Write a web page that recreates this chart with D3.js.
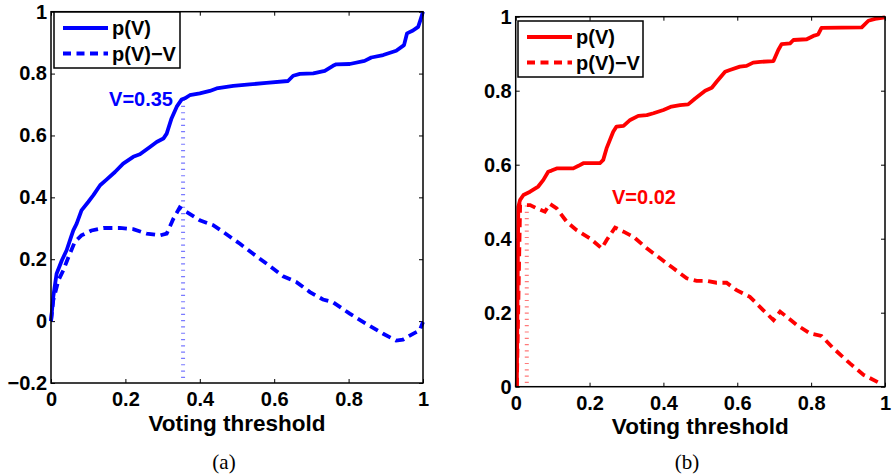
<!DOCTYPE html>
<html><head><meta charset="utf-8">
<script src="https://cdn.jsdelivr.net/npm/d3@7"></script>
<style>
html,body{margin:0;padding:0;background:#fff;}
svg{display:block;}
.tick text{font-family:"Liberation Sans",Arial,sans-serif;font-weight:bold;font-size:20px;fill:#000;}
</style></head>
<body>
<svg id="chart" width="893" height="474"></svg>
<script>
// ---------- data ----------
const xTicks = [0, 0.2, 0.4, 0.6, 0.8, 1];
const xTickLabels = ["0", "0.2", "0.4", "0.6", "0.8", "1"];
const yTicksA = [-0.2, 0, 0.2, 0.4, 0.6, 0.8, 1];
const yTickLabelsA = ["\u22120.2", "0", "0.2", "0.4", "0.6", "0.8", "1"];
const yTicksB = [0, 0.2, 0.4, 0.6, 0.8, 1];
const yTickLabelsB = ["0", "0.2", "0.4", "0.6", "0.8", "1"];
const seriesNames = ["p(V)", "p(V)\u2212V"];
const xLabel = "Voting threshold";

// panel (a): p(V)
const a_pV = [[0,0],[0.006,0.078],[0.015,0.153],[0.029,0.196],[0.042,0.229],[0.054,0.272],[0.060,0.293],
[0.069,0.315],[0.082,0.358],[0.100,0.385],[0.114,0.407],[0.132,0.439],[0.150,0.458],[0.172,0.482],
[0.194,0.509],[0.221,0.531],[0.239,0.539],[0.266,0.563],[0.284,0.579],[0.302,0.590],[0.311,0.606],
[0.324,0.655],[0.338,0.693],[0.351,0.716],[0.360,0.720],[0.373,0.730],[0.400,0.736],[0.427,0.744],
[0.445,0.752],[0.490,0.760],[0.534,0.765],[0.579,0.770],[0.637,0.776],[0.651,0.793],[0.669,0.799],
[0.705,0.801],[0.736,0.809],[0.758,0.825],[0.767,0.830],[0.803,0.831],[0.843,0.841],[0.861,0.852],
[0.893,0.860],[0.928,0.874],[0.949,0.892],[0.957,0.930],[0.973,0.939],[0.987,0.951],[0.993,0.973],[1.0,1.0]];
// panel (a): p(V)-V
const a_pVmV = [[0,0],[0.006,0.067],[0.020,0.132],[0.033,0.164],[0.047,0.207],[0.064,0.256],[0.082,0.277],
[0.109,0.293],[0.141,0.301],[0.185,0.301],[0.221,0.297],[0.257,0.283],[0.293,0.277],[0.311,0.283],
[0.329,0.331],[0.346,0.367],[0.364,0.353],[0.400,0.326],[0.436,0.310],[0.463,0.288],[0.508,0.250],
[0.552,0.210],[0.579,0.186],[0.624,0.145],[0.660,0.126],[0.696,0.094],[0.731,0.070],[0.758,0.061],
[0.803,0.024],[0.848,-0.009],[0.893,-0.041],[0.928,-0.063],[0.946,-0.060],[0.973,-0.041],[0.991,-0.030],[1.0,-0.003]];
const a_marker = {v: 0.355, top: 0.716, label: "V=0.35"};

// panel (b): p(V)
const b_pV = [[0.003,0],[0.007,0.486],[0.012,0.505],[0.021,0.518],[0.039,0.527],[0.061,0.541],[0.075,0.559],
[0.088,0.581],[0.097,0.584],[0.111,0.590],[0.156,0.590],[0.170,0.597],[0.183,0.604],[0.228,0.604],
[0.237,0.613],[0.246,0.644],[0.264,0.689],[0.273,0.703],[0.292,0.705],[0.310,0.721],[0.332,0.732],
[0.355,0.734],[0.373,0.739],[0.400,0.748],[0.422,0.757],[0.445,0.761],[0.467,0.763],[0.486,0.779],
[0.513,0.800],[0.531,0.808],[0.544,0.824],[0.567,0.851],[0.580,0.856],[0.607,0.865],[0.625,0.867],
[0.643,0.876],[0.662,0.878],[0.698,0.880],[0.711,0.910],[0.720,0.926],[0.743,0.928],[0.752,0.937],
[0.788,0.939],[0.806,0.948],[0.819,0.952],[0.828,0.970],[0.937,0.971],[0.955,0.989],[0.973,0.994],[1.0,0.998]];
// panel (b): p(V)-V
const b_pVmV = [[0.003,0],[0.012,0.491],[0.039,0.491],[0.057,0.482],[0.079,0.473],[0.093,0.494],[0.111,0.482],
[0.138,0.446],[0.165,0.423],[0.201,0.401],[0.233,0.374],[0.246,0.396],[0.269,0.430],[0.292,0.419],
[0.319,0.405],[0.355,0.374],[0.391,0.347],[0.427,0.320],[0.463,0.293],[0.490,0.286],[0.517,0.286],
[0.544,0.281],[0.571,0.281],[0.598,0.261],[0.634,0.243],[0.670,0.207],[0.698,0.180],[0.716,0.203],
[0.761,0.167],[0.797,0.144],[0.828,0.137],[0.860,0.104],[0.905,0.063],[0.942,0.032],[0.987,0.009]];
const b_marker = {v: 0.03, top: 0.49, label: "V=0.02"};

// ---------- layout ----------
const svg = d3.select("#chart");
const panels = [
  {x0:51, x1:423, yTop:11.7, yBot:383, yDomain:[-0.2,1], yTicks:yTicksA, yLabels:yTickLabelsA,
   color:"#0000ff", dotColor:"#7a7aff", pV:a_pV, pVmV:a_pVmV, marker:a_marker,
   legend:{x:54, y:12, w:126, h:56}, markerLabel:{x:173, y:106, anchor:"end"},
   xLabelY:431, caption:"(a)", captionX:224},
  {x0:515.7, x1:885, yTop:16.7, yBot:386.7, yDomain:[0,1], yTicks:yTicksB, yLabels:yTickLabelsB,
   color:"#ff0000", dotColor:"#ff7a7a", pV:b_pV, pVmV:b_pVmV, marker:b_marker,
   legend:{x:518, y:21, w:125, h:56}, markerLabel:{x:612, y:204, anchor:"start"},
   xLabelY:434, caption:"(b)", captionX:687}
];

panels.forEach(p => {
  const x = d3.scaleLinear().domain([0,1]).range([p.x0, p.x1]);
  const y = d3.scaleLinear().domain(p.yDomain).range([p.yBot, p.yTop]);
  const g = svg.append("g");

  // axes with inside ticks
  const ax = g.append("g").attr("transform",`translate(0,${p.yBot})`)
    .call(d3.axisBottom(x).tickValues(xTicks).tickFormat((d,i)=>xTickLabels[i]).tickSize(-4).tickPadding(9));
  const ay = g.append("g").attr("transform",`translate(${p.x0},0)`)
    .call(d3.axisLeft(y).tickValues(p.yTicks).tickFormat((d,i)=>p.yLabels[i]).tickSize(-4).tickPadding(4));
  const at = g.append("g").attr("transform",`translate(0,${p.yTop})`)
    .call(d3.axisTop(x).tickValues(xTicks).tickFormat("").tickSize(-4));
  const ar = g.append("g").attr("transform",`translate(${p.x1},0)`)
    .call(d3.axisRight(y).tickValues(p.yTicks).tickFormat("").tickSize(-4));
  [ax,ay,at,ar].forEach(a => { a.select(".domain").remove(); a.selectAll("line").attr("stroke","#000").attr("stroke-width",1); });

  // dotted marker line
  g.append("line")
    .attr("x1", x(p.marker.v)).attr("x2", x(p.marker.v))
    .attr("y1", y(p.marker.top)).attr("y2", p.yBot - 3)
    .attr("stroke", p.dotColor).attr("stroke-width", 4).attr("stroke-dasharray", "1.2,5.1");

  const line = d3.line().x(d=>x(d[0])).y(d=>y(d[1]));
  g.append("path").datum(p.pVmV).attr("d", line).attr("fill","none")
    .attr("stroke", p.color).attr("stroke-width", 3.8).attr("stroke-dasharray","9,5.5");
  g.append("path").datum(p.pV).attr("d", line).attr("fill","none")
    .attr("stroke", p.color).attr("stroke-width", 3.8).attr("stroke-linejoin","round");

  // frame
  g.append("rect").attr("x",p.x0).attr("y",p.yTop).attr("width",p.x1-p.x0).attr("height",p.yBot-p.yTop)
    .attr("fill","none").attr("stroke","#000").attr("stroke-width",1.5);

  // marker label
  g.append("text").attr("x",p.markerLabel.x).attr("y",p.markerLabel.y).attr("text-anchor",p.markerLabel.anchor)
    .attr("font-family","'Liberation Sans',Arial,sans-serif").attr("font-weight","bold").attr("font-size",20)
    .attr("fill",p.color).text(p.marker.label);

  // legend
  const L = p.legend;
  g.append("rect").attr("x",L.x).attr("y",L.y).attr("width",L.w).attr("height",L.h)
    .attr("fill","#fff").attr("stroke","#000").attr("stroke-width",1.5);
  seriesNames.forEach((name,i) => {
    const cy = L.y + 16 + i*25.5;
    g.append("line").attr("x1",L.x+9).attr("x2",L.x+54).attr("y1",cy).attr("y2",cy)
      .attr("stroke",p.color).attr("stroke-width",3.8).attr("stroke-dasharray", i ? "8,5.5" : null);
    g.append("text").attr("x",L.x+58).attr("y",cy).attr("dy","0.36em")
      .attr("font-family","'Liberation Sans',Arial,sans-serif").attr("font-weight","bold").attr("font-size",20)
      .attr("fill","#000").text(name);
  });

  // x label
  g.append("text").attr("x",(p.x0+p.x1)/2).attr("y",p.xLabelY).attr("text-anchor","middle")
    .attr("font-family","'Liberation Sans',Arial,sans-serif").attr("font-weight","bold").attr("font-size",22.5)
    .attr("fill","#000").text(xLabel);

  // caption
  g.append("text").attr("x",p.captionX).attr("y",469).attr("text-anchor","middle")
    .attr("font-family","'Liberation Serif','Times New Roman',serif").attr("font-size",21)
    .attr("fill","#000").text(p.caption);
});
</script>
</body></html>
